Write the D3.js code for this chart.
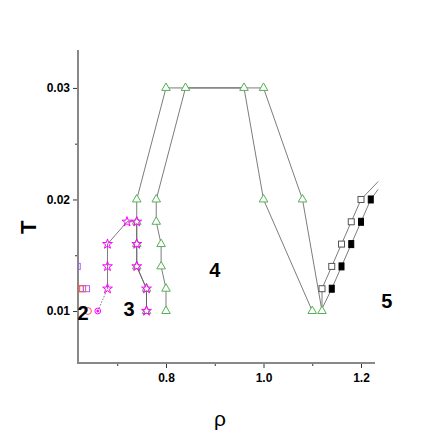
<!DOCTYPE html>
<html>
<head>
<meta charset="utf-8">
<script src="https://cdn.jsdelivr.net/npm/d3@7"></script>
<style>
  body { margin: 0; background: #fff; }
  .tick text { font-family: "Liberation Sans", Arial, sans-serif; font-weight: bold; font-size: 12px; fill: #000; }
</style>
</head>
<body>
<div id="chart"></div>
<script>
// phase boundaries (rho, T)
var triOuterRho = [0.76, 0.76, 0.74, 0.74, 0.74, 0.74, 0.80, 1.00, 1.08, 1.12];
var triOuterT   = [0.010, 0.012, 0.014, 0.016, 0.018, 0.020, 0.030, 0.030, 0.020, 0.010];
var triInnerRho = [0.80, 0.80, 0.79, 0.79, 0.78, 0.78, 0.84, 0.96, 1.00, 1.10];
var triInnerT   = [0.010, 0.012, 0.014, 0.016, 0.018, 0.020, 0.030, 0.030, 0.020, 0.010];

var starRho = [0.68, 0.68, 0.68, 0.72, 0.74, 0.74, 0.74, 0.76, 0.76];
var starT   = [0.012, 0.014, 0.016, 0.018, 0.018, 0.016, 0.014, 0.012, 0.010];
var dotCircleRho = [0.66];
var dotCircleT   = [0.010];

var openSqRho = [1.12, 1.14, 1.16, 1.18, 1.20];
var openSqT   = [0.012, 0.014, 0.016, 0.018, 0.020];
var openLineRho = [1.12, 1.12, 1.14, 1.16, 1.18, 1.20, 1.235];
var openLineT   = [0.0102, 0.012, 0.014, 0.016, 0.018, 0.020, 0.0216];

var fillSqRho = [1.14, 1.16, 1.18, 1.20, 1.22];
var fillSqT   = [0.012, 0.014, 0.016, 0.018, 0.020];
var fillLineRho = [1.12, 1.14, 1.16, 1.18, 1.20, 1.22, 1.235];
var fillLineT   = [0.0102, 0.012, 0.014, 0.016, 0.018, 0.020, 0.0209];

var redSqRho = [0.624, 0.629];
var redSqT   = [0.012, 0.012];
var violetSqRho = [0.637, 0.618];
var violetSqT   = [0.012, 0.014];
var redCircleRho = [0.64];
var redCircleT   = [0.010];

var phaseLabels = ["2", "3", "4", "5"];
var phaseRho = [0.630, 0.724, 0.900, 1.253];
var phaseT   = [0.0098, 0.0102, 0.0137, 0.0109];

var xMajor = [0.8, 1.0, 1.2];
var xMinor = [0.7, 0.9, 1.1];
var yMajor = [0.01, 0.02, 0.03];
var yMinor = [0.015, 0.025];

var W = 436, H = 436;
var m = [50, 61, 73, 78]; // top right bottom left

function pts(a, b) { return a.map(function(v, i) { return [v, b[i]]; }); }

var x = d3.scaleLinear().domain([0.6195, 1.2287]).range([m[3], W - m[1]]);
var y = d3.scaleLinear().domain([0.00534, 0.0334]).range([H - m[2], m[0]]);

var svg = d3.select("#chart").append("svg")
  .attr("width", W)
  .attr("height", H);

svg.append("defs").append("clipPath")
  .attr("id", "clip")
  .append("rect")
  .attr("x", m[3])
  .attr("y", m[0])
  .attr("width", W - m[1] - m[3] + 4)
  .attr("height", H - m[0] - m[2]);

var fontNarrow = '"Liberation Sans Narrow", "Arial Narrow", "Liberation Sans", sans-serif';

// axes
var gx = svg.append("g").attr("transform", "translate(0," + (H - m[2]) + ")");
gx.call(d3.axisBottom(x).tickValues(xMajor).tickSize(5).tickPadding(5).tickFormat(d3.format(".1f")));
gx.append("g").call(d3.axisBottom(x).tickValues(xMinor).tickSize(3).tickFormat(""));
gx.selectAll(".domain").remove();

var gy = svg.append("g").attr("transform", "translate(" + m[3] + ",0)");
gy.call(d3.axisLeft(y).tickValues(yMajor).tickSize(5).tickPadding(3).tickFormat(d3.format(".2f")));
gy.append("g").call(d3.axisLeft(y).tickValues(yMinor).tickSize(3).tickFormat(""));
gy.selectAll(".domain").remove();
svg.selectAll(".tick line").attr("stroke", "#333");

svg.append("line")
  .attr("x1", m[3]).attr("x2", m[3])
  .attr("y1", m[0]).attr("y2", H - m[2] + 1)
  .attr("stroke", "#888").attr("stroke-width", 2);
svg.append("line")
  .attr("x1", m[3] - 1).attr("x2", W - m[1])
  .attr("y1", H - m[2]).attr("y2", H - m[2])
  .attr("stroke", "#888").attr("stroke-width", 2);

svg.append("text")
  .attr("transform", "translate(36," + y(0.0175) + ") rotate(-90)")
  .attr("text-anchor", "middle")
  .attr("font-family", "Liberation Sans, Arial, sans-serif")
  .attr("font-weight", "bold")
  .attr("font-size", 22)
  .text("T");

svg.append("text")
  .attr("x", 220)
  .attr("y", 426)
  .attr("text-anchor", "middle")
  .attr("font-family", "Liberation Sans, Arial, sans-serif")
  .attr("font-size", 21)
  .text("ρ");

// plot
var plot = svg.append("g").attr("clip-path", "url(#clip)");

var line = d3.line()
  .x(function(d) { return x(d[0]); })
  .y(function(d) { return y(d[1]); });

var lineSets = [
  pts(triOuterRho, triOuterT),
  pts(triInnerRho, triInnerT),
  pts(starRho, starT),
  pts(openLineRho, openLineT),
  pts(fillLineRho, fillLineT)
];

plot.selectAll(".curve")
  .data(lineSets)
  .enter().append("path")
  .attr("class", "curve")
  .attr("d", line)
  .attr("fill", "none")
  .attr("stroke", "#5a5a5a")
  .attr("stroke-width", 0.8);

// dotted link from the circle point up to the first star
plot.append("path")
  .attr("d", line(pts(dotCircleRho, dotCircleT).concat([[starRho[0], starT[0]]])))
  .attr("fill", "none")
  .attr("stroke", "#5a5a5a")
  .attr("stroke-width", 0.8)
  .attr("stroke-dasharray", "1.5,1.5");

function symbols(data, type, size, stroke, fill) {
  plot.append("g").selectAll("path")
    .data(data)
    .enter().append("path")
    .attr("transform", function(d) { return "translate(" + x(d[0]) + "," + y(d[1]) + ")"; })
    .attr("d", d3.symbol().type(type).size(size))
    .attr("fill", fill)
    .attr("stroke", stroke)
    .attr("stroke-width", 1);
}

function boxes(data, w, h, stroke, fill) {
  plot.append("g").selectAll("rect")
    .data(data)
    .enter().append("rect")
    .attr("x", function(d) { return x(d[0]) - w / 2; })
    .attr("y", function(d) { return y(d[1]) - h / 2; })
    .attr("width", w)
    .attr("height", h)
    .attr("fill", fill)
    .attr("stroke", stroke)
    .attr("stroke-width", 1);
}

symbols(pts(triOuterRho, triOuterT), d3.symbolTriangle, 32, "#55b055", "#fff");
symbols(pts(triInnerRho, triInnerT), d3.symbolTriangle, 32, "#55b055", "#fff");
symbols(pts(starRho, starT), d3.symbolStar, 30, "#ff00ff", "none");
symbols(pts(dotCircleRho, dotCircleT), d3.symbolCircle, 26, "#ff00ff", "#fff");
symbols(pts(dotCircleRho, dotCircleT), d3.symbolCircle, 3, "#ff00ff", "#ff00ff");
symbols(pts(redCircleRho, redCircleT), d3.symbolCircle, 36, "#ff5050", "none");

boxes(pts(openSqRho, openSqT), 6, 6, "#555", "#fff");
boxes(pts(fillSqRho, fillSqT), 5, 7, "#000", "#000");
boxes(pts(redSqRho, redSqT), 6, 6, "#ff5050", "none");
boxes(pts(violetSqRho, violetSqT), 6, 6, "#b060ff", "none");

// phase labels
svg.append("g").selectAll("text")
  .data(phaseLabels)
  .enter().append("text")
  .attr("x", function(d, i) { return x(phaseRho[i]); })
  .attr("y", function(d, i) { return y(phaseT[i]); })
  .attr("dy", "0.36em")
  .attr("text-anchor", "middle")
  .attr("font-family", fontNarrow)
  .attr("font-weight", "bold")
  .attr("font-size", 20)
  .text(function(d) { return d; });
</script>
</body>
</html>
